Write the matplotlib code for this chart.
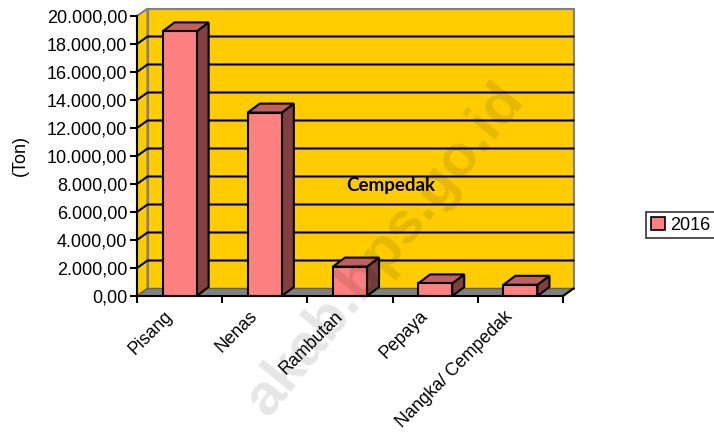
import numpy as np
import matplotlib
matplotlib.use("Agg")
import matplotlib.pyplot as plt
from matplotlib.patches import Polygon, Patch
from matplotlib.ticker import FuncFormatter
from matplotlib.transforms import ScaledTranslation

# data
categories = ["Pisang", "Nenas", "Rambutan", "Pepaya", "Nangka/ Cempedak"]
values_2016 = [18900, 13100, 2100, 900, 800]
series_name = "2016"
y_ticks = list(range(0, 20001, 2000))

W, H = 714, 438
fig = plt.figure(figsize=(W / 100, H / 100), dpi=100)
plt.rcParams['font.family'] = ['Liberation Sans', 'DejaVu Sans']

# front plot area in pixels
x0, x1, ytop, ybot = 137, 563, 16, 296
ax = fig.add_axes([x0 / W, 1 - ybot / H, (x1 - x0) / W, (ybot - ytop) / H])
n = len(categories)
ax.set_xlim(-0.5, n - 0.5)
ax.set_ylim(0, 20000)
ax.patch.set_alpha(0)

px_x = (x1 - x0) / n          # pixels per category
px_y = (ybot - ytop) / 20000  # pixels per ton

# depth offsets (data units)
wdx, wdy = 10.5 / px_x, 7.5 / px_y
bdx, bdy = 12 / px_x, 9 / px_y

yellow = "#FFCC00"
grey = "#808080"
L, R, T = -0.5, n - 0.5, 20000

# back wall
ax.add_patch(Polygon([(L + wdx, wdy), (R + wdx, wdy), (R + wdx, T + wdy), (L + wdx, T + wdy)],
                     closed=True, fc=yellow, ec=grey, lw=1.5, clip_on=False, zorder=1))
# left side wall
ax.add_patch(Polygon([(L, 0), (L + wdx, wdy), (L + wdx, T + wdy), (L, T)],
                     closed=True, fc=yellow, ec=grey, lw=1.5, clip_on=False, zorder=1))
# floor
ax.add_patch(Polygon([(L, 0), (R, 0), (R + wdx, wdy), (L + wdx, wdy)],
                     closed=True, fc=grey, ec="#606060", lw=1, clip_on=False, zorder=1.5))
ax.plot([R, R + wdx], [0, wdy], color="black", lw=1.5, clip_on=False, zorder=2)

# gridlines on side and back walls
for v in y_ticks[1:-1]:
    ax.plot([L, L + wdx, R + wdx], [v, v + wdy, v + wdy], color="black", lw=1.5,
            clip_on=False, zorder=1.8)

# bars
bw = 0.4
for i, v in enumerate(values_2016):
    a, b = i - bw / 2, i + bw / 2
    front = Polygon([(a, 0), (b, 0), (b, v), (a, v)], closed=True,
                    fc="#FF8080", ec="black", lw=1.5, zorder=5, clip_on=False)
    side = Polygon([(b, 0), (b + bdx, bdy), (b + bdx, v + bdy), (b, v)], closed=True,
                   fc="#804040", ec="black", lw=1.5, zorder=5, clip_on=False)
    top = Polygon([(a, v), (b, v), (b + bdx, v + bdy), (a + bdx, v + bdy)], closed=True,
                  fc="#C06060", ec="black", lw=1.5, zorder=5, clip_on=False)
    for p in (side, top, front):
        ax.add_patch(p)

# axes
for s in ["top", "right"]:
    ax.spines[s].set_visible(False)
for s in ["left", "bottom"]:
    ax.spines[s].set_linewidth(1.5)
    ax.spines[s].set_zorder(6)
ax.set_yticks(y_ticks)
ax.yaxis.set_major_formatter(FuncFormatter(
    lambda v, p: f"{v:,.2f}".replace(",", "X").replace(".", ",").replace("X", ".")))
ax.tick_params(axis="y", direction="out", length=5, width=1.5, labelsize=13, pad=2)
ax.set_xticks(np.arange(-0.5, n, 1.0))
ax.set_xticklabels([])
ax.tick_params(axis="x", which="major", direction="out", length=5, width=1.5)
ax.set_xticks(range(n), minor=True)
ax.set_xticklabels(categories, minor=True, rotation=45, ha="right", va="top",
                   rotation_mode="anchor", fontsize=12.8)
ax.tick_params(axis="x", which="minor", length=0, pad=12)
shift = ScaledTranslation(-16 / 100, 5 / 100, fig.dpi_scale_trans)
for lab in ax.get_xticklabels(minor=True):
    lab.set_transform(lab.get_transform() + shift)

fig.text(20 / W, 1 - 155 / H, "(Ton)", rotation=90, ha="center", va="center", fontsize=13)

ax.text(391 / W, 1 - 185 / H, "Cempedak", transform=fig.transFigure, ha="center", va="center",
        fontsize=13.5, fontweight="bold", family="Lato", zorder=4)

leg = fig.legend(handles=[Patch(fc="#FF8080", ec="black", lw=1.2, label=series_name)],
                 loc="upper left", bbox_to_anchor=(646 / W, 1 - 212 / H), fontsize=13,
                 frameon=True, fancybox=False, handlelength=0.8, handleheight=0.8,
                 handletextpad=0.3, borderpad=0.25, borderaxespad=0)
leg.get_frame().set_edgecolor("black")
leg.get_frame().set_linewidth(1.2)

# faint watermark
fig.text(385 / W, 1 - 250 / H, "akab.bps.go.id", rotation=51, ha="center", va="center",
         fontsize=42, fontweight="bold", color="black", alpha=0.1, zorder=10)

fig.savefig("out.png", dpi=100)
